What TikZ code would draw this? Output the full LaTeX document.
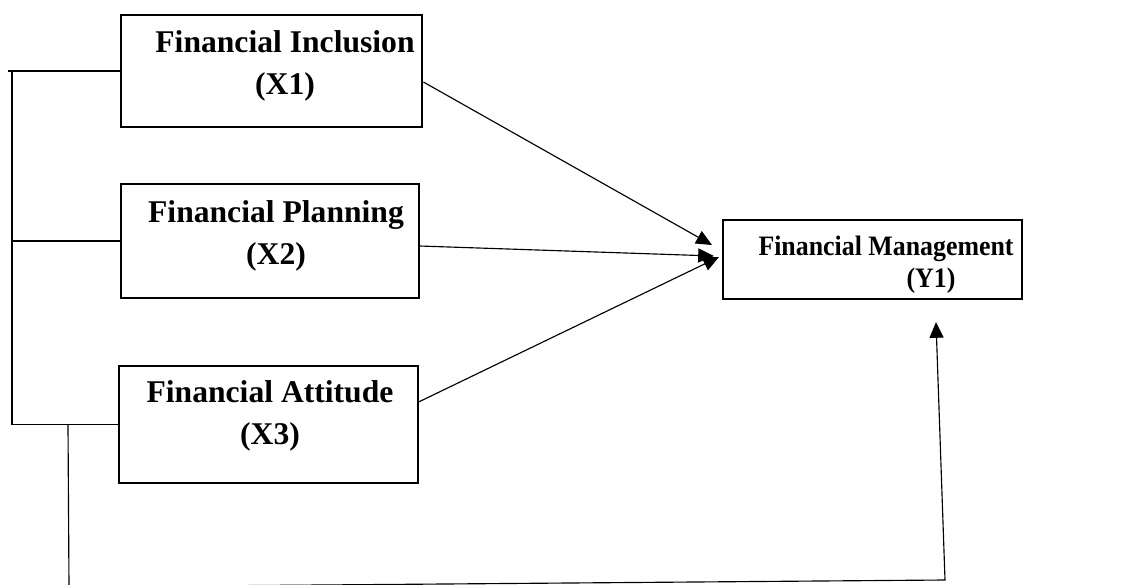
\documentclass[tikz,border=0pt]{standalone}
\usepackage{fontspec}
\setmainfont{Liberation Serif}
\newfontfamily\narrowserif{Liberation Serif}[FakeStretch=0.92]
\usetikzlibrary{arrows.meta}
\tikzset{
    box/.style={draw, line width=0.7pt, inner sep=0pt}, % plain variable box
    key box/.style={box, line width=1.6pt}, % box with heavy border
    caption/.style={align=center, inner sep=0pt, font=\bfseries\fontsize{18}{23.8}\selectfont},
    link/.style={line width=0.65pt},
    arrow/.style={link, -{Triangle[length=9pt, width=8pt]}}
}

\begin{document}
\begin{tikzpicture}[x=0.02cm, y=-0.02cm]
    \useasboundingbox (0,0) rectangle (1123,585);

    % variable boxes
    \node[key box, minimum width=6.02cm, minimum height=2.24cm] (x1) at (271.5,71) {};
    \node[box, minimum width=5.96cm, minimum height=2.28cm] (x2) at (270,241) {};
    \node[box, minimum width=5.98cm, minimum height=2.34cm] (x3) at (268.5,424.5) {};
    \node[key box, minimum width=5.98cm, minimum height=1.58cm] (y1) at (872.5,259.5) {};

    \node[caption] (x1 text) at (285,66) {Financial Inclusion\\(X1)};
    \node[caption] (x2 text) at (276,236) {Financial Planning\\(X2)};
    \node[caption] (x3 text) at (270,416) {Financial Attitude\\(X3)};
    \node[caption, font=\narrowserif\bfseries\fontsize{16}{18}\selectfont] (y1 text) at (886,265)
        {Financial Management\\\hspace*{1.8cm}(Y1)};

    % bracket on the left
    \coordinate (top end) at (8,71);
    \coordinate (spine) at (12,71);
    \draw[link] (x1.west) -- (top end);
    \draw[link] (spine) -- (spine |- x3.west) -- (x3.west);
    \draw[link] (x2.west) -- (x2.west -| spine);

    % arrows into Y1
    \coordinate (t1) at (712,245);
    \coordinate (t2) at (714,256);
    \coordinate (t3) at (719,257);
    \draw[arrow] ([yshift=-0.22cm]x1.east) -- (t1);
    \draw[arrow] ([yshift=-0.1cm]x2.east) -- (t2);
    \draw[arrow] ([yshift=0.45cm]x3.east) -- (t3);

    % long way round at the bottom
    \coordinate (drop) at (68,424.5);
    \coordinate (low left) at (69,587);
    \coordinate (low right) at (945,580);
    \coordinate (t4) at (936,322);
    \draw[arrow] (drop) -- (low left) -- (low right) -- (t4);
\end{tikzpicture}
\end{document}
